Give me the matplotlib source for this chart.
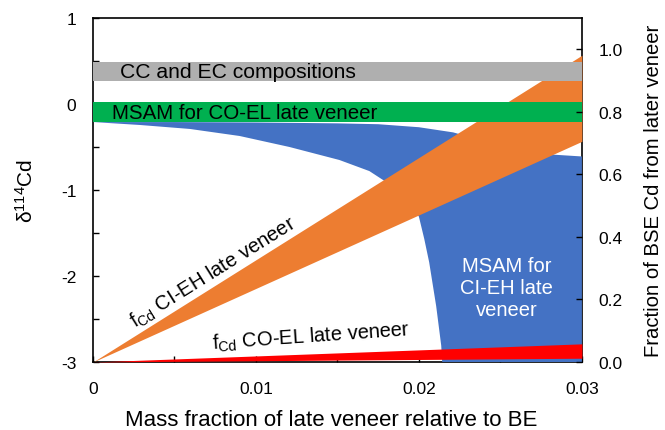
import numpy as np
import matplotlib
matplotlib.use("Agg")
import matplotlib.pyplot as plt
from matplotlib.ticker import MultipleLocator

plt.rcParams["font.family"] = ["Liberation Sans", "DejaVu Sans"]
plt.rcParams["mathtext.fontset"] = "custom"
plt.rcParams["mathtext.rm"] = "Liberation Sans"
plt.rcParams["mathtext.it"] = "Liberation Sans:italic"
plt.rcParams["axes.unicode_minus"] = False

# Reference bands (delta 114Cd)
cc_ec_band = [0.27, 0.49]
msam_coel_band = [-0.21, 0.02]

# MSAM envelope for CI-EH late veneer
blue_top_x = [0.0, 0.005, 0.010, 0.015, 0.0175, 0.020, 0.0221, 0.024, 0.0257, 0.0275, 0.030]
blue_top_y = [-0.21, -0.21, -0.215, -0.225, -0.235, -0.27, -0.33, -0.43, -0.53, -0.58, -0.61]
blue_low_x = [0.0, 0.00288, 0.00594, 0.0090, 0.01206, 0.01512, 0.01696, 0.0185,
              0.0194, 0.0200, 0.02033, 0.02063, 0.02106, 0.02137, 0.02143]
blue_low_y = [-0.21, -0.244, -0.29, -0.372, -0.50, -0.651, -0.78, -0.97,
              -1.14, -1.31, -1.57, -1.84, -2.35, -2.81, -3.0]

# Fraction of BSE Cd delivered by the late veneer
frac_x = [0.0, 0.03]
cieh_lo = [0.0, 0.705]
cieh_hi = [0.0, 0.98]
coel_lo = [0.0, 0.012]
coel_hi = [0.0, 0.058]

x_max = 0.03

fig = plt.figure(figsize=(6.65, 4.31), dpi=100)
ax = fig.add_axes([0.1398, 0.1578, 0.7352, 0.7981])
ax2 = ax.twinx()

ax.set_xlim(0, x_max)
ax.set_ylim(-3, 1)
ax2.set_ylim(0, 1.099)

# blue envelope: upper curve, right edge down to -3, then lower curve back
poly_x = blue_top_x + [x_max] + blue_low_x[::-1]
poly_y = blue_top_y + [-3.0] + blue_low_y[::-1]
ax.fill(poly_x, poly_y, color="#4472C4", lw=0, zorder=3)

# fraction wedges use the right-hand axis scale
ax.fill_between(frac_x, cieh_lo, cieh_hi, color="#ED7D31", lw=0, zorder=3,
                transform=ax2.transData)
ax.fill_between(frac_x, coel_lo, coel_hi, color="#FF0000", lw=0, zorder=3,
                transform=ax2.transData)

ax.fill_between([0, x_max], msam_coel_band[0], msam_coel_band[1],
                color="#00B050", lw=0, zorder=3)
ax.fill_between([0, x_max], cc_ec_band[0], cc_ec_band[1],
                color="#AFAFAF", lw=0, zorder=3)

fs = 14.8
ax.text(0.00165, 0.38, "CC and EC compositions", fontsize=15.2, va="center", zorder=5)
ax.text(0.00116, -0.095, "MSAM for CO-EL late veneer", fontsize=fs, va="center", zorder=5)
ax.text(0.0254, -2.13, "MSAM for\nCI-EH late\nveneer", fontsize=14.5, color="white",
        ha="center", va="center", linespacing=1.2, zorder=5)
ax.text(0.0074, -1.95, r"f$_{\mathrm{Cd}}$ CI-EH late veneer", fontsize=14.5,
        ha="center", va="center", rotation=32, rotation_mode="anchor", zorder=5)
ax.text(0.0134, -2.70, r"f$_{\mathrm{Cd}}$ CO-EL late veneer", fontsize=14.5,
        ha="center", va="center", rotation=4, rotation_mode="anchor", zorder=5)

ax.xaxis.set_major_locator(MultipleLocator(0.01))
ax.xaxis.set_minor_locator(MultipleLocator(0.005))
ax.yaxis.set_major_locator(MultipleLocator(1))
ax.yaxis.set_minor_locator(MultipleLocator(0.5))
ax.set_xticks([0, 0.01, 0.02, 0.03], ["0", "0.01", "0.02", "0.03"])
ax.tick_params(which="both", direction="in", length=4, width=1, labelsize=12.5,
               top=False, right=False)
ax.tick_params(axis="x", which="both", pad=14)
ax.tick_params(axis="y", which="both", pad=12)
ax2.yaxis.set_major_locator(MultipleLocator(0.2))
ax2.yaxis.set_major_formatter(plt.FormatStrFormatter("%.1f"))
ax2.tick_params(direction="in", length=4, width=1, labelsize=12.5, pad=12)
for s in ax2.spines.values():
    s.set_visible(False)
for s in ax.spines.values():
    s.set_linewidth(1.2)

ax.set_xlabel("Mass fraction of late veneer relative to BE", fontsize=16)
ax.xaxis.set_label_coords(0.488, -0.138)
ax.set_ylabel(r"δ$^{114}$Cd", fontsize=15, labelpad=17)
ax2.set_ylabel("Fraction of BSE Cd from later veneer", fontsize=14.6, labelpad=15)

fig.savefig("out.png", dpi=100)
